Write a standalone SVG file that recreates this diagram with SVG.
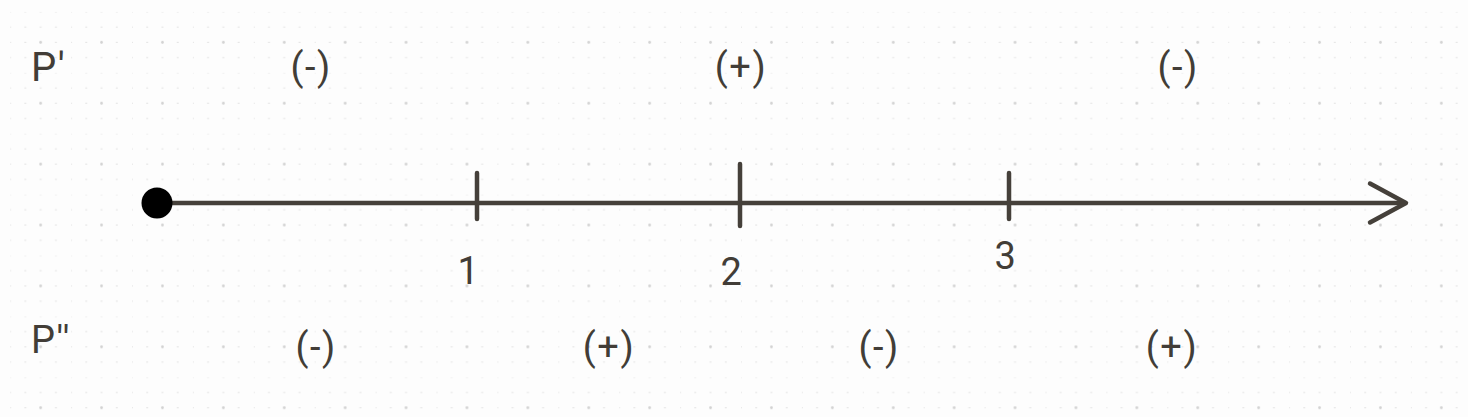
<svg xmlns="http://www.w3.org/2000/svg" width="1468" height="417" viewBox="0 0 1468 417">
<style>
.t{font-family:Roboto,"Liberation Sans",sans-serif;font-size:38px;fill:#423d37;letter-spacing:1.5px;}
.c{text-anchor:middle;}
.ln{stroke:#45403a;stroke-width:4.5;stroke-linecap:round;stroke-linejoin:round;fill:none;}
</style>
<defs>
<pattern id="grid" patternUnits="userSpaceOnUse" x="10.2" y="11.9" width="60.9" height="60.9">
<g fill="#e2e2e2">
<rect x="-1" y="-0.5" width="2" height="1"/><rect x="14.2" y="-0.5" width="2" height="1"/><rect x="29.45" y="-0.5" width="2" height="1"/><rect x="44.7" y="-0.5" width="2" height="1"/>
<rect x="-1" y="14.7" width="2" height="1"/><rect x="14.2" y="14.7" width="2" height="1"/><rect x="29.45" y="14.7" width="2" height="1"/><rect x="44.7" y="14.7" width="2" height="1"/>
<rect x="-1" y="29.95" width="2" height="1"/><rect x="14.2" y="29.95" width="2" height="1"/><rect x="44.7" y="29.95" width="2" height="1"/>
<rect x="-1" y="45.2" width="2" height="1"/><rect x="14.2" y="45.2" width="2" height="1"/><rect x="29.45" y="45.2" width="2" height="1"/><rect x="44.7" y="45.2" width="2" height="1"/>
</g>
<circle cx="30.45" cy="30.45" r="1.4" fill="#d2d2d2"/>
</pattern>
</defs>
<rect width="1468" height="417" fill="#fdfdfd"/>
<rect width="1468" height="417" fill="url(#grid)"/>
<g id="connectors">
<line class="ln" x1="157" y1="203" x2="1405" y2="203"/>
<polyline class="ln" points="1370,183.5 1406,203 1370,222.5"/>
</g>
<g id="origin"><circle cx="157" cy="203" r="15.5" fill="#000"/></g>
<g id="tick1"><line class="ln" x1="477" y1="173" x2="477" y2="219"/><text class="t c" x="469" y="284">1</text></g>
<g id="tick2"><line class="ln" x1="740" y1="164" x2="740" y2="226"/><text class="t c" x="732" y="285">2</text></g>
<g id="tick3"><line class="ln" x1="1009" y1="173" x2="1009" y2="219"/><text class="t c" x="1006" y="269">3</text></g>
<g id="p1-label"><text class="t" x="31" y="81" style="font-size:40px">P'</text></g>
<g id="p1-s1"><text class="t c" x="311" y="80">(-)</text></g>
<g id="p1-s2"><text class="t c" x="741" y="80">(+)</text></g>
<g id="p1-s3"><text class="t c" x="1178" y="80">(-)</text></g>
<g id="p2-label"><text class="t" x="31" y="353">P''</text></g>
<g id="p2-s1"><text class="t c" x="316" y="360">(-)</text></g>
<g id="p2-s2"><text class="t c" x="609" y="360">(+)</text></g>
<g id="p2-s3"><text class="t c" x="879" y="360">(-)</text></g>
<g id="p2-s4"><text class="t c" x="1172" y="360">(+)</text></g>
</svg>
